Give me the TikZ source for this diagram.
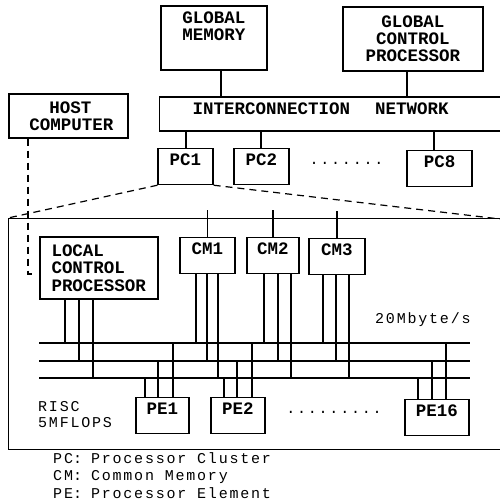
\documentclass[tikz,border=0pt]{standalone}
\usepackage{fontspec}
\newfontfamily\boxfont{Liberation Mono}
\newfontfamily\notefont[LetterSpace=12]{Liberation Mono}
\tikzset{
  wire/.style={line width=1.2pt},
  dashlink/.style={line width=1.2pt, dash pattern=on 7pt off 5pt},
  blockbox/.style={draw, line width=1.2pt, inner sep=0pt, align=center,
    font=\boxfont\bfseries\fontsize{17.5}{17}\selectfont},
  unitbox/.style={draw, line width=1.2pt, anchor=north, minimum width=55pt,
    inner xsep=0pt, inner ysep=5.5pt, text height=11pt, text depth=14pt,
    font=\boxfont\bfseries\fontsize{17.5}{17}\selectfont},
  notetext/.style={inner sep=0pt, font=\notefont\fontsize{15}{17.5}\selectfont}
}
\begin{document}
\begin{tikzpicture}[x=1pt,y=1pt,yscale=-1]
\useasboundingbox (0,0) rectangle (500,504);
\clip (0,0) rectangle (500,504);

% Upper level
\node[blockbox, minimum width=106pt, minimum height=64pt] (gm) at (214,38) {GLOBAL\\MEMORY\\[6pt]\mbox{}};
\node[blockbox, minimum width=140pt, minimum height=64pt] (gcp) at (413,39) {GLOBAL\\CONTROL\\PROCESSOR};
\node[blockbox, minimum width=119pt, minimum height=44pt] (host) at (68.5,116) {\hspace{4pt}HOST\\\hspace{6pt}COMPUTER};
\node[blockbox, anchor=west, align=left, text width=295pt, inner xsep=33pt, minimum height=34pt,
  text height=12pt, text depth=12pt] (net) at (159,114) {\makebox[182.5pt][l]{INTERCONNECTION}NETWORK};

\node[unitbox] (pc1) at (185.5,148) {PC1};
\node[unitbox] (pc2) at (261.5,148) {PC2};
\node[unitbox, minimum width=65pt] (pc8) at (439.5,150) {PC8};
\node[notetext] (pcdots) at (346.5,163) {.......};

\draw[wire] (221,0 |- gm.south) -- (221,0 |- net.north);
\draw[wire] (407,0 |- gcp.south) -- (407,0 |- net.north);
\foreach \n/\x in {pc1/186,pc2/261,pc8/434}
  \draw[wire] (\x,0 |- net.south) -- (\x,0 |- \n.north);

% Processor cluster
\node[draw, line width=1.2pt, anchor=north west, inner sep=0pt,
  minimum width=520pt, minimum height=231pt] (cl) at (8,218) {};
\coordinate (clend) at (500,219);
\draw[dashlink] (pc1.south west) -- (cl.north west);
\draw[dashlink] (pc1.south east) -- (clend);

\coordinate (hostout) at ([xshift=-40.5pt]host.south);
\node[blockbox, align=left, text width=95pt, inner xsep=11.5pt, minimum height=62pt,
  font=\boxfont\bfseries\fontsize{17.5}{17.5}\selectfont] (lcp) at (99,268) {LOCAL\\CONTROL\\PROCESSOR};
\draw[dashlink] (hostout) |- ([xshift=-5pt,yshift=6pt]lcp.west);

\node[unitbox] (cm1) at (207.5,237) {CM1};
\node[unitbox, minimum width=52pt] (cm2) at (273,237) {CM2};
\node[unitbox, minimum width=56pt] (cm3) at (337,238) {CM3};
\foreach \n in {cm1,cm2,cm3}
  \draw[wire] (\n.north) -- ++(0,-27);

% Buses
\coordinate (busA) at (39,343);
\coordinate (busB) at (39,361);
\coordinate (busC) at (39,378);
\foreach \b in {busA,busB,busC}
  \draw[wire] (\b) -- ++(431,0);

\node[unitbox, minimum width=53pt] (pe1) at (162.5,397) {PE1};
\node[unitbox, minimum width=54pt] (pe2) at (238,397) {PE2};
\node[unitbox, minimum width=64pt] (pe16) at (437,399) {PE16};
\node[notetext] (pedots) at (334,412) {.........};

\foreach \x/\n/\b in {65/lcp/busA,79/lcp/busB,93/lcp/busC,
    196/cm1/busA,207/cm1/busB,218/cm1/busC,
    264/cm2/busA,278/cm2/busB,291/cm2/busC,
    323/cm3/busA,336/cm3/busB,349/cm3/busC}
  \draw[wire] (\x,0 |- \n.south) -- (\x,0 |- \b);
\foreach \x/\n/\b in {145/pe1/busC,158/pe1/busB,173/pe1/busA,
    224/pe2/busC,237/pe2/busB,252/pe2/busA,
    418/pe16/busC,432/pe16/busB,446/pe16/busA}
  \draw[wire] (\x,0 |- \n.north) -- (\x,0 |- \b);

% Text Node
\node[notetext, anchor=west] (rate) at (375,320) {20Mbyte/s};
% Text Node
\node[notetext, anchor=west, align=left, font=\notefont\fontsize{15}{16}\selectfont] (risc) at (38,415) {RISC\\5MFLOPS};
% Legend
\node[notetext, anchor=west] (legend) at (53,477) {%
  \begin{tabular}{@{}l@{\hspace{0pt}}l@{\hspace{9pt}}l@{}}
  PC & : & Processor Cluster\\
  CM & : & Common Memory\\
  PE & : & Processor Element
  \end{tabular}};
\end{tikzpicture}
\end{document}
